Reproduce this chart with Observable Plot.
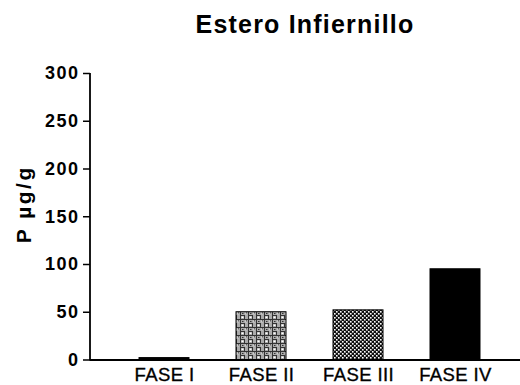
<!DOCTYPE html>
<html>
<head>
<meta charset="utf-8">
<script src="https://cdn.jsdelivr.net/npm/d3@7"></script>
<script src="https://cdn.jsdelivr.net/npm/@observablehq/plot@0.6"></script>
<style>
  html, body { margin: 0; padding: 0; background: #fff; }
  #wrap { width: 520px; height: 385px; position: relative; overflow: hidden; font-family: "Liberation Sans", Arial, sans-serif; }
  #title { height: 55px; box-sizing: border-box; padding-top: 11.8px; padding-left: 90px; width: 520px;
           text-align: center; font-size: 25px; line-height: 25px; font-weight: bold; letter-spacing: 1.2px; color: #000; }
  g[aria-label="y-axis tick label"] text { letter-spacing: 1.5px; }
  g[aria-label="x-axis tick label"] text { letter-spacing: 0.4px; stroke: #000; stroke-width: 0.35px; }
  g[aria-label="text"] text { letter-spacing: 2.5px; }
</style>
</head>
<body>
<div id="wrap">
  <div id="title"></div>
  <div id="chart"></div>
</div>
<script>
const title = "Estero Infiernillo";
const yLabel = "P µg/g";
const phases = ["FASE I", "FASE II", "FASE III", "FASE IV"];
const values = [2, 50, 52, 95];
const fills = ["#000", "url(#patII)", "url(#patIII)", "#000"];
const yTicks = [0, 50, 100, 150, 200, 250, 300];

document.getElementById("title").textContent = title;

const data = phases.map((p, i) => ({phase: p, value: values[i], fill: fills[i]}));

const chart = Plot.plot({
  width: 520,
  height: 330,
  marginLeft: 90,
  marginRight: 0,
  marginTop: 18,
  marginBottom: 25.5,
  x: {domain: phases, range: [114, 504], paddingInner: 0.487, paddingOuter: 0.2435, label: null},
  y: {domain: [0, 300], label: null},
  color: {type: "identity"},
  style: {fontFamily: "'Liberation Sans', Arial, sans-serif", background: "white", color: "#000", overflow: "visible"},
  marks: [
    Plot.barY(data, {x: "phase", y: "value", fill: "fill", stroke: "#000", strokeWidth: 1}),
    Plot.ruleY([0], {stroke: "#000", strokeWidth: 2}),
    Plot.axisY(yTicks, {tickSize: 7, tickPadding: 4, fontSize: 18, fontWeight: "bold", strokeWidth: 1.5, label: null}),
    Plot.axisX({tickSize: 0, tickPadding: 7.5, fontSize: 18.5, label: null}),
    Plot.text([yLabel], {frameAnchor: "left", text: d => d, rotate: -90, textAnchor: "middle", lineAnchor: "middle",
                         dx: -66.5, dy: -12.5, fontSize: 21, fontWeight: "bold", fill: "#000"})
  ]
});

// fill patterns referenced by the bars
const svg = d3.select(chart);
const defs = svg.insert("defs", ":first-child");
const p2 = defs.append("pattern").attr("id", "patII").attr("patternUnits", "userSpaceOnUse").attr("width", 8).attr("height", 8);
p2.append("rect").attr("width", 8).attr("height", 8).attr("fill", "#aaa");
p2.append("path").attr("d", "M0 0.5H8M0.5 0V8M0 4.5H5M4.5 4V8M6.5 0V3M2 2.5H3.5").attr("stroke", "#333").attr("stroke-width", 1).attr("fill", "none");
p2.append("rect").attr("x", 1.5).attr("y", 5.5).attr("width", 2).attr("height", 1.5).attr("fill", "#fff");
p2.append("rect").attr("x", 5.5).attr("y", 1.5).attr("width", 1).attr("height", 2).attr("fill", "#eee");
const p3 = defs.append("pattern").attr("id", "patIII").attr("patternUnits", "userSpaceOnUse").attr("width", 4).attr("height", 4);
p3.append("rect").attr("width", 4).attr("height", 4).attr("fill", "#111");
p3.append("rect").attr("x", 0).attr("y", 0).attr("width", 1.6).attr("height", 1.6).attr("fill", "#fff");
p3.append("rect").attr("x", 2).attr("y", 2).attr("width", 1.6).attr("height", 1.6).attr("fill", "#fff");

// y axis domain line drawn from the chart's own y scale
const ys = chart.scale("y");
svg.append("line")
  .attr("x1", 90).attr("x2", 90)
  .attr("y1", ys.apply(0) + 1).attr("y2", ys.apply(300))
  .attr("stroke", "#000").attr("stroke-width", 1.8);

document.getElementById("chart").appendChild(chart);
</script>
</body>
</html>
